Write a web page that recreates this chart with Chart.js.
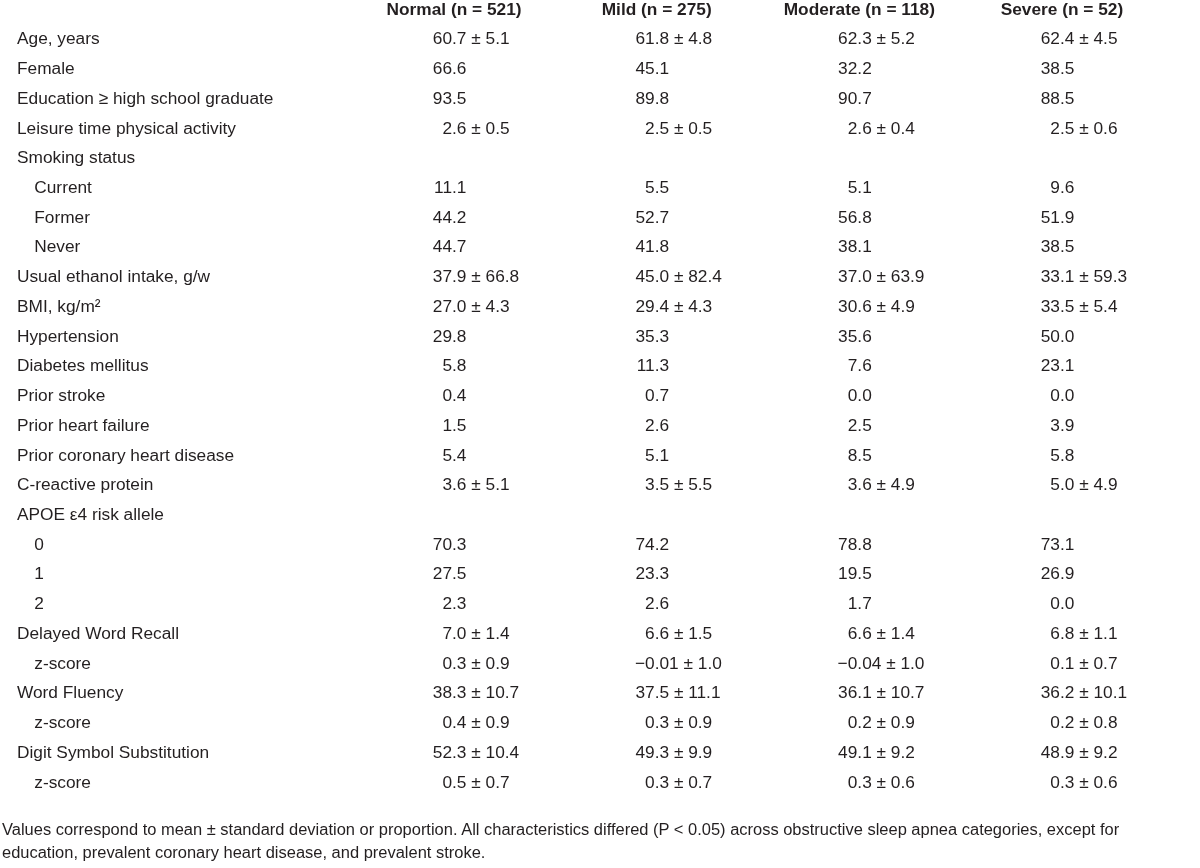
<!DOCTYPE html>
<html>
<head>
<meta charset="utf-8">
<script src="https://cdn.jsdelivr.net/npm/chart.js@4.4.1/dist/chart.umd.min.js"></script>
<style>
html, body { margin: 0; padding: 0; background: #ffffff; }
#wrap { position: relative; width: 1200px; height: 868px; }
#c { position: absolute; left: 0; top: 0; }
#note { position: absolute; left: 1.5px; top: 818px; font-family: 'Liberation Sans', Arial, sans-serif; font-size: 17.3px; line-height: 23.3px; color: #231f20; white-space: nowrap; transform: scaleX(0.953); transform-origin: 0 0; }
</style>
</head>
<body>
<div id="wrap">
  <canvas id="c" width="1200" height="868"></canvas>
  <div id="note">Values correspond to mean ± standard deviation or proportion. All characteristics differed (P &lt; 0.05) across obstructive sleep apnea categories, except for<br>education, prevalent coronary heart disease, and prevalent stroke.</div>
</div>
<script>
// ---- data ----
const columnHeaders = ["Normal (n = 521)", "Mild (n = 275)", "Moderate (n = 118)", "Severe (n = 52)"];

const rowLabels = [
  "Age, years",
  "Female",
  "Education \u2265 high school graduate",
  "Leisure time physical activity",
  "Smoking status",
  "\u2003Current",
  "\u2003Former",
  "\u2003Never",
  "Usual ethanol intake, g/w",
  "BMI, kg/m\u00b2",
  "Hypertension",
  "Diabetes mellitus",
  "Prior stroke",
  "Prior heart failure",
  "Prior coronary heart disease",
  "C-reactive protein",
  "APOE \u03b54 risk allele",
  "\u20030",
  "\u20031",
  "\u20032",
  "Delayed Word Recall",
  "\u2003z-score",
  "Word Fluency",
  "\u2003z-score",
  "Digit Symbol Substitution",
  "\u2003z-score"
];

const normalValues = ["60.7 \u00b1 5.1","66.6","93.5","2.6 \u00b1 0.5","","11.1","44.2","44.7","37.9 \u00b1 66.8","27.0 \u00b1 4.3","29.8","5.8","0.4","1.5","5.4","3.6 \u00b1 5.1","","70.3","27.5","2.3","7.0 \u00b1 1.4","0.3 \u00b1 0.9","38.3 \u00b1 10.7","0.4 \u00b1 0.9","52.3 \u00b1 10.4","0.5 \u00b1 0.7"];
const mildValues = ["61.8 \u00b1 4.8","45.1","89.8","2.5 \u00b1 0.5","","5.5","52.7","41.8","45.0 \u00b1 82.4","29.4 \u00b1 4.3","35.3","11.3","0.7","2.6","5.1","3.5 \u00b1 5.5","","74.2","23.3","2.6","6.6 \u00b1 1.5","\u22120.01 \u00b1 1.0","37.5 \u00b1 11.1","0.3 \u00b1 0.9","49.3 \u00b1 9.9","0.3 \u00b1 0.7"];
const moderateValues = ["62.3 \u00b1 5.2","32.2","90.7","2.6 \u00b1 0.4","","5.1","56.8","38.1","37.0 \u00b1 63.9","30.6 \u00b1 4.9","35.6","7.6","0.0","2.5","8.5","3.6 \u00b1 4.9","","78.8","19.5","1.7","6.6 \u00b1 1.4","\u22120.04 \u00b1 1.0","36.1 \u00b1 10.7","0.2 \u00b1 0.9","49.1 \u00b1 9.2","0.3 \u00b1 0.6"];
const severeValues = ["62.4 \u00b1 4.5","38.5","88.5","2.5 \u00b1 0.6","","9.6","51.9","38.5","33.1 \u00b1 59.3","33.5 \u00b1 5.4","50.0","23.1","0.0","3.9","5.8","5.0 \u00b1 4.9","","73.1","26.9","0.0","6.8 \u00b1 1.1","0.1 \u00b1 0.7","36.2 \u00b1 10.1","0.2 \u00b1 0.8","48.9 \u00b1 9.2","0.3 \u00b1 0.6"];

const columnValues = [normalValues, mildValues, moderateValues, severeValues];

// ---- style ----
const FAMILY = "'Liberation Sans', Arial, sans-serif";
const FS = 17.3;
const TXT = '#231f20';

Chart.defaults.font.family = FAMILY;
Chart.defaults.font.size = FS;
Chart.defaults.color = TXT;

// draws each cell's text at the position of its (column, row) point, decimal aligned
const cellText = {
  id: 'cellText',
  afterDatasetsDraw(chart) {
    const ctx = chart.ctx;
    ctx.save();
    ctx.font = FS + 'px ' + FAMILY;
    ctx.fillStyle = TXT;
    ctx.textBaseline = 'middle';
    ctx.textAlign = 'left';
    columnValues.forEach((vals, d) => {
      const meta = chart.getDatasetMeta(d);
      meta.data.forEach((pt, i) => {
        const s = vals[i];
        if (!s) return;
        const k = s.indexOf('.');
        const intW = ctx.measureText(k >= 0 ? s.slice(0, k) : s).width;
        const anchor = pt.x - 2;
        ctx.fillText(s, anchor - intW, pt.y);
      });
    });
    ctx.restore();
  }
};

const datasets = columnHeaders.map((h, d) => ({
  label: h,
  data: rowLabels.map(r => ({ x: h, y: r })),
  pointRadius: 0,
  pointHoverRadius: 0,
  showLine: false
}));

new Chart(document.getElementById('c'), {
  type: 'scatter',
  data: { datasets },
  options: {
    responsive: false,
    animation: false,
    events: [],
    layout: { padding: { left: 17, right: 36.7, top: 0, bottom: 70.3 } },
    plugins: {
      legend: { display: false },
      tooltip: { enabled: false },
      title: { display: false }
    },
    scales: {
      x: {
        type: 'category',
        labels: columnHeaders,
        position: 'top',
        offset: true,
        grid: { display: false, drawTicks: false },
        border: { display: false },
        ticks: {
          autoSkip: false,
          maxRotation: 0,
          padding: 4.4,
          color: TXT,
          font: { family: FAMILY, size: FS, weight: 'bold' }
        },
        afterFit(scale) { scale.height = 24.7; }
      },
      y: {
        type: 'category',
        labels: rowLabels,
        position: 'left',
        offset: true,
        grid: { display: false, drawTicks: false },
        border: { display: false },
        ticks: {
          autoSkip: false,
          crossAlign: 'far',
          padding: 0,
          color: TXT,
          font: { family: FAMILY, size: FS }
        },
        afterFit(scale) { scale.width = 335.7; }
      }
    }
  },
  plugins: [cellText]
});
</script>
</body>
</html>
